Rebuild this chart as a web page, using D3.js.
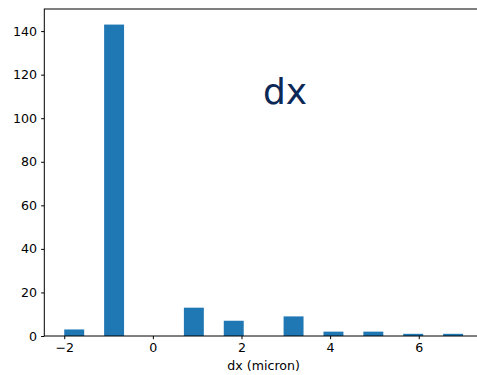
<!DOCTYPE html>
<html>
<head>
<meta charset="utf-8">
<script src="https://cdn.jsdelivr.net/npm/d3@7"></script>
<style>
  body { margin: 0; background: #fff; }
  svg { display: block; }
  text { font-family: "DejaVu Sans", sans-serif; }
</style>
</head>
<body>
<div id="chart"></div>
<script>
let width = 477;
let height = 375;

// histogram: integer offsets, 20 bins over [-2, 7]
let dxValues = [-2, -1, 1, 2, 3, 4, 5, 6, 7];
let dxCounts = [3, 143, 13, 7, 9, 2, 2, 1, 1];
let binCount = 20;
let xTicks = [-2, 0, 2, 4, 6];
let yTicks = [0, 20, 40, 60, 80, 100, 120, 140];

let margin = { left: 44.3, top: 9, right: 483, bottom: 336 };

let binWidth = (d3.max(dxValues) - d3.min(dxValues)) / binCount;
let bins = dxValues.map(function (v, i) {
    let k = Math.min(Math.floor((v - dxValues[0]) / binWidth + 1e-9), binCount - 1);
    return { x0: dxValues[0] + k * binWidth, x1: dxValues[0] + (k + 1) * binWidth, n: dxCounts[i] };
});

let pad = 0.05 * (d3.max(dxValues) - d3.min(dxValues));
let x = d3.scaleLinear()
    .domain([d3.min(dxValues) - pad, d3.max(dxValues) + pad])
    .range([margin.left, margin.right]);
let y = d3.scaleLinear()
    .domain([0, d3.max(dxCounts) * 1.05])
    .range([margin.bottom, margin.top]);

let svg = d3.select("#chart")
    .append("svg")
    .attr("width", width)
    .attr("height", height);

svg.selectAll("rect.bar")
    .data(bins)
    .enter()
    .append("rect")
    .attr("class", "bar")
    .attr("x", d => x(d.x0))
    .attr("width", d => x(d.x1) - x(d.x0))
    .attr("y", d => y(d.n))
    .attr("height", d => y(0) - y(d.n))
    .attr("fill", "#1f77b4");

let xAxis = svg.append("g")
    .attr("transform", "translate(0," + margin.bottom + ")")
    .call(d3.axisBottom(x).tickValues(xTicks).tickSize(3.2).tickPadding(4)
        .tickFormat(d => d < 0 ? "\u2212" + Math.abs(d) : d));
let yAxis = svg.append("g")
    .attr("transform", "translate(" + margin.left + ",0)")
    .call(d3.axisLeft(y).tickValues(yTicks).tickSize(3.2).tickPadding(4));

[xAxis, yAxis].forEach(function (g) {
    g.select(".domain").remove();
    g.selectAll("text").attr("font-size", "12.6px").attr("fill", "#000")
        .attr("font-family", "DejaVu Sans, sans-serif");
    g.selectAll("line").attr("stroke", "#000").attr("stroke-width", 1);
});

// spines (right one falls off the canvas)
svg.append("rect")
    .attr("x", margin.left)
    .attr("y", margin.top)
    .attr("width", margin.right - margin.left)
    .attr("height", margin.bottom - margin.top)
    .attr("fill", "none")
    .attr("stroke", "#000")
    .attr("stroke-width", 1);

svg.append("text")
    .attr("x", (margin.left + margin.right) / 2)
    .attr("y", 370)
    .attr("text-anchor", "middle")
    .attr("font-size", "12.6px")
    .text("dx (micron)");

svg.append("text")
    .attr("x", 263)
    .attr("y", 104)
    .attr("font-size", "36px")
    .attr("fill", "#0b2857")
    .text("dx");
</script>
</body>
</html>
